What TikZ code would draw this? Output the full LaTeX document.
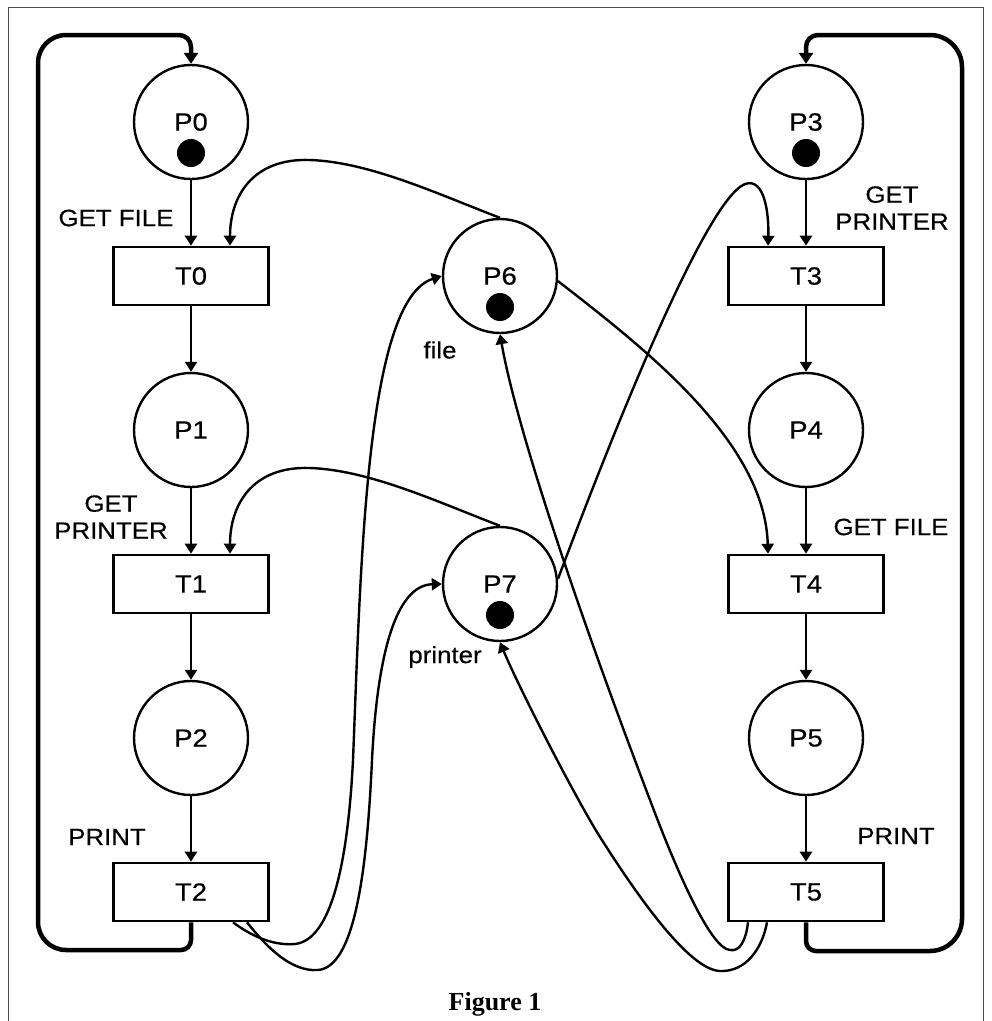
\documentclass[tikz,border=0pt]{standalone}
\usepackage{fontspec}
\setmainfont{Liberation Sans}[FakeStretch=1.1,FakeBold=0.4]
\newfontfamily\figfont{Liberation Serif}
\usetikzlibrary{arrows.meta,calc}
\begin{document}
\begin{tikzpicture}[x=1pt,y=-1pt,
  place/.style={circle,draw,line width=2.4pt,minimum size=114pt,inner sep=0pt,font=\fontsize{25}{28}\selectfont},
  trans/.style={rectangle,draw,line width=2.6pt,minimum width=155pt,minimum height=58pt,inner sep=0pt,font=\fontsize{25}{28}\selectfont},
  lbl/.style={font=\fontsize{23.5}{27}\selectfont,align=center,inner sep=0pt},
  flow/.style={line width=2.4pt,-{Triangle[length=10pt,width=12pt]}},
  backline/.style={line width=4.5pt,-{Triangle[length=11pt,width=14pt]}},
  tok/.style={fill=black}]
\useasboundingbox (0,0) rectangle (992,1021);
\fill[white] (0,0) rectangle (992,1021);
\draw[line width=1pt,black!70] (8,1021) -- (8,7) -- (983,7) -- (983,1021);

% places
\node[place] (p0) at (191,122) {P0};
\node[place] (p1) at (191,430) {P1};
\node[place] (p2) at (191,738) {P2};
\node[place] (p3) at (806,122) {P3};
\node[place] (p4) at (806,430) {P4};
\node[place] (p5) at (806,738) {P5};
\node[place] (p6) at (500,276) {P6};
\node[place] (p7) at (500,584) {P7};
\fill[tok] ($(p0.center)+(0,31)$) circle[radius=14];
\fill[tok] ($(p3.center)+(0,31)$) circle[radius=14];
\fill[tok] ($(p6.center)+(0,31)$) circle[radius=14];
\fill[tok] ($(p7.center)+(0,31)$) circle[radius=14];

% transitions
\node[trans] (t0) at (191,276) {T0};
\node[trans] (t1) at (191,584) {T1};
\node[trans] (t2) at (191,892) {T2};
\node[trans] (t3) at (806,276) {T3};
\node[trans] (t4) at (806,584) {T4};
\node[trans] (t5) at (806,892) {T5};

% labels
\node[lbl] (lgf0) at (116,218) {GET FILE};
\node[lbl] (lgp1) at (111,517) {GET\\PRINTER};
\node[lbl] (lpr2) at (107,837) {PRINT};
\node[lbl] (lgp3) at (892,208) {GET\\PRINTER};
\node[lbl] (lgf4) at (891,527) {GET FILE};
\node[lbl] (lpr5) at (896,836) {PRINT};
\node[lbl] (lfile) at (440,350) {file};
\node[lbl] (lprinter) at (445,657) {printer};
\node[font=\figfont\bfseries\fontsize{26}{30}\selectfont,inner sep=0pt] (fig) at (495,1004) {Figure 1};

% straight arcs
\draw[flow] (p0) -- (t0);
\draw[flow] (t0) -- (p1);
\draw[flow] (p1) -- (t1);
\draw[flow] (t1) -- (p2);
\draw[flow] (p2) -- (t2);
\draw[flow] (p3) -- (t3);
\draw[flow] (t3) -- (p4);
\draw[flow] (p4) -- (t4);
\draw[flow] (t4) -- (p5);
\draw[flow] (p5) -- (t5);

% back loops
\draw[backline] (t2.south) [rounded corners=10pt] -- (191,950) [rounded corners=28pt] -- (38,950) -- (38,35) [rounded corners=12pt] -- (191,35) -- (p0.north);
\draw[backline] (t5.south) [rounded corners=10pt] -- (806,951) [rounded corners=32pt] -- (962,951) -- (962,35) [rounded corners=12pt] -- (806,35) -- (p3.north);

% resource arcs
\draw[flow] (p6.north) .. controls (440,195) and (370,162) .. (310,160)
  .. controls (252,158) and (230,197) .. ($(t0.north)+(39,0)$);
\draw[flow] (p7.north) .. controls (440,503) and (370,470) .. (310,468)
  .. controls (252,466) and (230,505) .. ($(t1.north)+(39,0)$);
\draw[flow] (p7.5) .. controls (610,440) and (705,200) .. (745,184)
  .. controls (765,177) and (769,215) .. ($(t3.north)+(-38,0)$);
\draw[flow] (p6.-5) .. controls (640,345) and (765,440) .. ($(t4.north)+(-38,0)$);

\draw[flow] ($(t2.south)+(42,0)$) .. controls (250,935) and (272,946) .. (295,944)
  .. controls (332,940) and (348,860) .. (353,760)
  .. controls (361,560) and (366,300) .. (p6.west);
\draw[flow] ($(t2.south)+(56,0)$) .. controls (265,945) and (290,972) .. (318,970)
  .. controls (355,967) and (367,870) .. (372,760)
  .. controls (378,640) and (400,585) .. (p7.west);

\draw[flow] ($(t5.south)+(-58,0)$) .. controls (746,940) and (740,952) .. (730,950)
  .. controls (712,949) and (680,880) .. (650,800)
  .. controls (570,590) and (515,420) .. (p6.south);
\draw[flow] ($(t5.south)+(-39,0)$) .. controls (762,950) and (745,972) .. (720,971)
  .. controls (690,970) and (640,900) .. (600,837)
  .. controls (575,797) and (520,690) .. (p7.south);
\end{tikzpicture}
\end{document}
